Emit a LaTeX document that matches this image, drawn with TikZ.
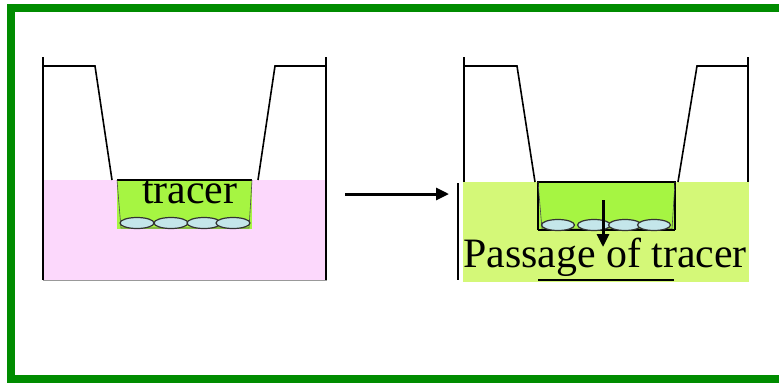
\documentclass[tikz,border=0pt]{standalone}
\usepackage{fontspec}
\setmainfont{Liberation Serif}
\usetikzlibrary{arrows.meta}
\definecolor{frame}{RGB}{0,140,0}
\definecolor{pinkmedium}{RGB}{252,216,252}
\definecolor{greenmedium}{RGB}{212,248,120}
\definecolor{insertgreen}{RGB}{166,245,66}
\definecolor{cellblue}{RGB}{196,230,234}
\begin{document}
\begin{tikzpicture}[x=1bp,y=-1bp,
  wall/.style={line width=1.6bp,black},
  cell/.style={draw=black!80,line width=1.2bp,fill=cellblue},
  membrane/.style={line width=0.6bp,black!70},
  flowarrow/.style={line width=3bp,-{Triangle[length=13bp,width=12bp]}},
  label/.style={font=\fontsize{42}{46}\selectfont,inner sep=0pt,anchor=base west}]
\useasboundingbox (0,0) rectangle (779,382);
\begin{scope}
\clip (0,0) rectangle (779,382);
\draw[frame,line width=8bp] (11,8) rectangle (790,379);
\end{scope}

% ---- left well: tracer added on top ----
\fill[pinkmedium] (43,180) rectangle (327,280);
\draw[black!40,line width=0.8bp] (43,280) -- (327,280);
\draw[wall] (43,57) -- (43,280);
\draw[wall] (326,57) -- (326,280);
\draw[wall] (43,66) -- (95,66) -- (112,180);
\draw[wall] (258,180) -- (275,66) -- (326,66);
\fill[insertgreen] (117,180) rectangle (252,229);
\draw[wall] (117,180) -- (252,180);
\draw[membrane] (117,180) -- (121,228) -- (249,228) -- (252,180);
\foreach \cx in {137,171,204,233}
  \draw[cell] (\cx,223) ellipse [x radius=17bp,y radius=5.5bp];
\node[label] (t1) at (142,203) {tracer};

% ---- arrow between the two states ----
\coordinate (a1) at (345,194);
\coordinate (a2) at (449,194);
\draw[flowarrow] (a1) -- (a2);

% ---- right well: tracer has crossed the cell layer ----
\fill[greenmedium] (463,182) rectangle (749,282);
\draw[wall] (464,57) -- (464,182);
\draw[wall] (748,57) -- (748,182);
\draw[line width=2.4bp] (458,183) -- (458,280);
\draw[wall] (464,66) -- (517,66) -- (535,182);
\draw[wall] (678,182) -- (697,66) -- (748,66);
\fill[insertgreen] (538,182) rectangle (675,230);
\draw[wall] (538,230) -- (538,182) -- (675,182) -- (675,230);
\draw[membrane] (538,182) -- (542,229) -- (672,229) -- (675,182);
\draw[line width=1.2bp] (538,230) -- (675,230);
\draw[line width=1.2bp] (538,280) -- (674,280);
\foreach \cx in {558,594,625,654}
  \draw[cell] (\cx,225) ellipse [x radius=16.5bp,y radius=5.5bp];
\node[label] (t2) at (463,267) {Passage of tracer};
\coordinate (d1) at (603,200);
\coordinate (d2) at (603,247);
\draw[flowarrow] (d1) -- (d2);
\end{tikzpicture}
\end{document}
